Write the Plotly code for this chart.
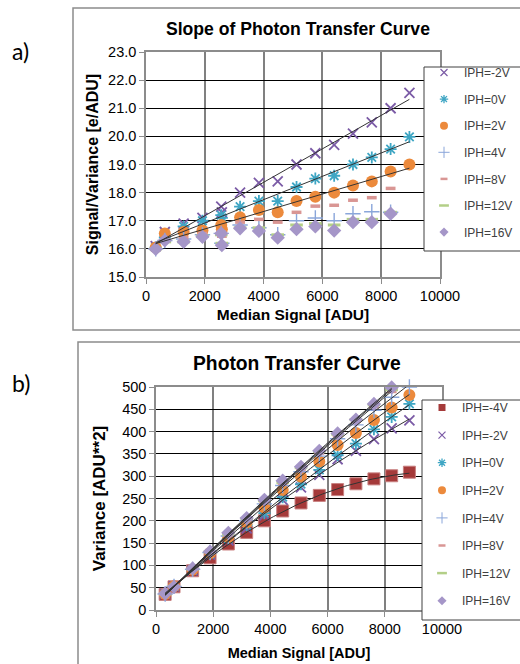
import numpy as np
import plotly.graph_objects as go

# ---------------- data: a) slope of photon transfer curve ----------------
xa = [330, 640, 1280, 1920, 2560, 2580, 3200, 3840, 4480, 5120, 5760, 6400, 7040, 7680, 8320, 8960]
a_m2 = [16.1, 16.6, 16.9, 17.1, 17.5, 17.3, 18.0, 18.35, 18.4, 19.0, 19.4, 19.7, 20.1, 20.5, 21.0, 21.55]
a_0 = [16.05, 16.4, 16.8, 17.0, 17.2, 17.1, 17.5, 17.7, 17.7, 18.2, 18.5, 18.6, 19.0, 19.25, 19.55, 19.98]
a_2 = [16.05, 16.55, 16.6, 16.65, 16.85, 16.7, 17.12, 17.38, 17.3, 17.7, 17.85, 18.0, 18.25, 18.4, 18.75, 19.0]
a_4 = [16.0, 16.3, 16.35, 16.5, 16.55, 16.2, 16.85, 16.75, 16.5, 17.0, 17.1, 17.0, 17.25, 17.32, 17.3]
a_8 = [16.0, 16.3, 16.4, 16.55, 16.6, 16.45, 16.95, 17.05, 16.95, 17.3, 17.52, 17.55, 17.73, 17.82, 18.15]
a_12 = [16.0, 16.25, 16.25, 16.45, 16.5, 16.2, 16.75, 16.75, 16.5, 16.85, 16.9, 16.85, 17.05, 17.05, 17.3]
a_16 = [16.0, 16.3, 16.25, 16.43, 16.55, 16.13, 16.73, 16.64, 16.4, 16.7, 16.8, 16.65, 16.95, 16.95, 17.25]

# ---------------- data: b) photon transfer curve ----------------
xb = [320, 630, 1280, 1890, 2530, 3170, 3790, 4430, 5070, 5710, 6350, 6990, 7620, 8240, 8860]
b_m4 = [35, 52, 88, 117, 148, 174, 200, 222, 240, 257, 270, 283, 294, 301, 309]
b_m2 = [36, 53, 89, 124, 156, 183, 212, 247, 275, 303, 338, 357, 383, 407, 425]
b_0 = [36, 53, 90, 126, 160, 190, 217, 253, 282, 314, 347, 373, 405, 433, 462]
b_2 = [36, 53, 90, 128, 163, 196, 230, 269, 299, 333, 370, 397, 426, 454, 482]
b_4 = [36, 53, 91, 129, 166, 200, 238, 279, 310, 345, 384, 415, 448, 477, 500]
b_8 = [36, 53, 91, 130, 168, 203, 242, 284, 316, 352, 391, 423, 456, 490]
b_12 = [36, 53, 92, 131, 170, 205, 245, 286, 319, 355, 394, 427, 460, 494]
b_16 = [37, 52, 93, 131, 173, 206, 247, 290, 321, 357, 396, 427, 462, 499]

names_a = ["IPH=-2V", "IPH=0V", "IPH=2V", "IPH=4V", "IPH=8V", "IPH=12V", "IPH=16V"]
names_b = ["IPH=-4V", "IPH=-2V", "IPH=0V", "IPH=2V", "IPH=4V", "IPH=8V", "IPH=12V", "IPH=16V"]

xa_ticks = [0, 2000, 4000, 6000, 8000, 10000]
ya_ticks = [15.0, 16.0, 17.0, 18.0, 19.0, 20.0, 21.0, 22.0, 23.0]
yb_ticks = [0, 50, 100, 150, 200, 250, 300, 350, 400, 450, 500]

W, H = 520, 664
def px(x): return x / W
def py(y): return 1 - y / H

FONT = "Liberation Sans, Arial, sans-serif"

colors = {
    "IPH=-4V": "#a53a3a", "IPH=-2V": "#7b5ba6", "IPH=0V": "#3fa6c4", "IPH=2V": "#ec8a3c",
    "IPH=4V": "#8aa6da", "IPH=8V": "#d99694", "IPH=12V": "#b3cf87", "IPH=16V": "#a596c8",
}
symbols = {
    "IPH=-4V": "square", "IPH=-2V": "x-thin", "IPH=0V": "asterisk", "IPH=2V": "circle",
    "IPH=4V": "cross-thin", "IPH=8V": "line-ew", "IPH=12V": "line-ew", "IPH=16V": "diamond",
}
sizes = {"IPH=-4V": 12, "IPH=-2V": 10, "IPH=0V": 10, "IPH=2V": 12,
         "IPH=4V": 11, "IPH=8V": 7, "IPH=12V": 9, "IPH=16V": 11}
lw = {"IPH=-4V": 1, "IPH=-2V": 1.8, "IPH=0V": 1.8, "IPH=2V": 0,
      "IPH=4V": 1.4, "IPH=8V": 3.5, "IPH=12V": 3, "IPH=16V": 0}
leg_sizes = {"IPH=-4V": 7, "IPH=-2V": 7, "IPH=0V": 7, "IPH=2V": 8,
             "IPH=4V": 8, "IPH=8V": 5, "IPH=12V": 7, "IPH=16V": 7}
leg_lw = {"IPH=-4V": 0, "IPH=-2V": 1.2, "IPH=0V": 1.3, "IPH=2V": 0,
          "IPH=4V": 1, "IPH=8V": 2.5, "IPH=12V": 2.5, "IPH=16V": 0}

def marker(nm, legend=False):
    c = colors[nm]
    lc = "#c98080" if nm == "IPH=-4V" else c
    if legend:
        return dict(symbol=symbols[nm], size=leg_sizes[nm], color=c,
                    line=dict(color=c, width=leg_lw[nm]))
    return dict(symbol=symbols[nm], size=sizes[nm], color=c, line=dict(color=lc, width=lw[nm]))

fig = go.Figure()

# a) markers
series_a = [a_m2, a_0, a_2, a_4, a_8, a_12, a_16]
for nm, ys in zip(names_a, series_a):
    fig.add_trace(go.Scatter(x=xa[:len(ys)], y=ys, mode="markers", name=nm,
                             marker=marker(nm), cliponaxis=False, showlegend=False,
                             xaxis="x", yaxis="y"))
# a) linear trend lines for -2V, 0V, 2V
for ys in [a_m2, a_0, a_2]:
    xs = np.array(xa[:len(ys)], dtype=float)
    p = np.polyfit(xs, np.array(ys), 1)
    xx = np.array([xs.min(), xs.max()])
    fig.add_trace(go.Scatter(x=xx, y=np.polyval(p, xx), mode="lines",
                             line=dict(color="#333333", width=1), showlegend=False,
                             hoverinfo="skip", xaxis="x", yaxis="y"))
# a) legend entries
for nm in names_a:
    fig.add_trace(go.Scatter(x=[None], y=[None], mode="markers", name=nm,
                             marker=marker(nm, True), legend="legend", legendgroup="a" + nm,
                             xaxis="x", yaxis="y"))

# b) markers
series_b = [b_m4, b_m2, b_0, b_2, b_4, b_8, b_12, b_16]
for nm, ys in zip(names_b, series_b):
    fig.add_trace(go.Scatter(x=xb[:len(ys)], y=ys, mode="markers", name=nm,
                             marker=marker(nm), cliponaxis=False, showlegend=False,
                             xaxis="x2", yaxis="y2"))
# b) polynomial trend lines
for ys in series_b:
    xs = np.array(xb[:len(ys)], dtype=float)
    p = np.polyfit(xs, np.array(ys, dtype=float), 2)
    xx = np.linspace(xs.min(), xs.max(), 80)
    fig.add_trace(go.Scatter(x=xx, y=np.polyval(p, xx), mode="lines",
                             line=dict(color="#333333", width=1), showlegend=False,
                             hoverinfo="skip", xaxis="x2", yaxis="y2"))
# b) legend entries
for nm in names_b:
    fig.add_trace(go.Scatter(x=[None], y=[None], mode="markers", name=nm,
                             marker=marker(nm, True), legend="legend2", legendgroup="b" + nm,
                             xaxis="x2", yaxis="y2"))

axis_common = dict(showline=True, linecolor="#8c8c8c", linewidth=1.5, mirror=True,
                   ticks="outside", ticklen=5, tickcolor="#8c8c8c", zeroline=False,
                   tickfont=dict(family=FONT, size=14.5, color="#000"))

fig.update_layout(
    width=W, height=H, margin=dict(l=0, r=0, t=0, b=0, autoexpand=False),
    paper_bgcolor="white", plot_bgcolor="white",
    font=dict(family=FONT, color="#000"),
    xaxis=dict(domain=[px(146), px(440)], range=[0, 10000], tickvals=xa_ticks, tickformat="d",
               showgrid=True, gridcolor="#808080", gridwidth=1.5, anchor="y",
               title=dict(text="<b>Median Signal [ADU]</b>", font=dict(size=15.5, family=FONT), standoff=6),
               **axis_common),
    yaxis=dict(domain=[py(277), py(52)], range=[15, 23], tickvals=ya_ticks, tickformat=".1f",
               showgrid=True, gridcolor="#000000", gridwidth=1, anchor="x",
               title=dict(text="<b>Signal/Variance [e/ADU]</b>", font=dict(size=16, family=FONT), standoff=6),
               **axis_common),
    xaxis2=dict(domain=[px(156), px(442)], range=[0, 10000], tickvals=xa_ticks, tickformat="d",
                showgrid=True, gridcolor="#808080", gridwidth=1.5, anchor="y2",
                title=dict(text="<b>Median Signal [ADU]</b>", font=dict(size=14.5, family=FONT), standoff=12),
                **axis_common),
    yaxis2=dict(domain=[py(610), py(387)], range=[0, 500], tickvals=yb_ticks,
                showgrid=True, gridcolor="#000000", gridwidth=1, anchor="x2",
                title=dict(text="<b>Variance [ADU**2]</b>", font=dict(size=17, family=FONT), standoff=12),
                **axis_common),
    legend=dict(x=px(424), y=py(58), xanchor="left", yanchor="top",
                bgcolor="rgba(0,0,0,0)", borderwidth=0, tracegroupgap=7.6,
                font=dict(family=FONT, size=12, color="#404040")),
    legend2=dict(x=px(422), y=py(393), xanchor="left", yanchor="top",
                 bgcolor="rgba(0,0,0,0)", borderwidth=0, tracegroupgap=8.6,
                 font=dict(family=FONT, size=12, color="#404040")),
    showlegend=True,
    shapes=[
        dict(type="rect", xref="paper", yref="paper", x0=px(73), x1=1.05, y0=py(330), y1=py(8),
             line=dict(color="#8c8c8c", width=1.5), fillcolor="rgba(0,0,0,0)", layer="below"),
        dict(type="rect", xref="paper", yref="paper", x0=px(78), x1=1.05, y0=-0.05, y1=py(342),
             line=dict(color="#8c8c8c", width=1.5), fillcolor="rgba(0,0,0,0)", layer="below"),
        dict(type="rect", xref="paper", yref="paper", x0=px(424), x1=1.05, y0=py(251), y1=py(67),
             line=dict(color="#404040", width=1), fillcolor="white", layer="above"),
        dict(type="rect", xref="paper", yref="paper", x0=px(422), x1=1.05, y0=py(620), y1=py(400),
             line=dict(color="#404040", width=1), fillcolor="white", layer="above"),
    ],
    annotations=[
        dict(text="<b>Slope of Photon Transfer Curve</b>", xref="paper", yref="paper",
             x=px(298), y=py(29), showarrow=False, xanchor="center", yanchor="middle",
             font=dict(family=FONT, size=17.6, color="#000")),
        dict(text="<b>Photon Transfer Curve</b>", xref="paper", yref="paper",
             x=px(297), y=py(363), showarrow=False, xanchor="center", yanchor="middle",
             font=dict(family=FONT, size=19.3, color="#000")),
        dict(text="a)", xref="paper", yref="paper", x=px(10), y=py(51), showarrow=False,
             xanchor="left", yanchor="middle", font=dict(family="Lato, Noto Sans, sans-serif", size=23, color="#000")),
        dict(text="b)", xref="paper", yref="paper", x=px(10), y=py(383), showarrow=False,
             xanchor="left", yanchor="middle", font=dict(family="Lato, Noto Sans, sans-serif", size=23, color="#000")),
    ],
)

fig.write_html("out.html", config={"displayModeBar": False},
               post_script="document.body.style.margin='0';document.body.style.overflow='hidden';")
